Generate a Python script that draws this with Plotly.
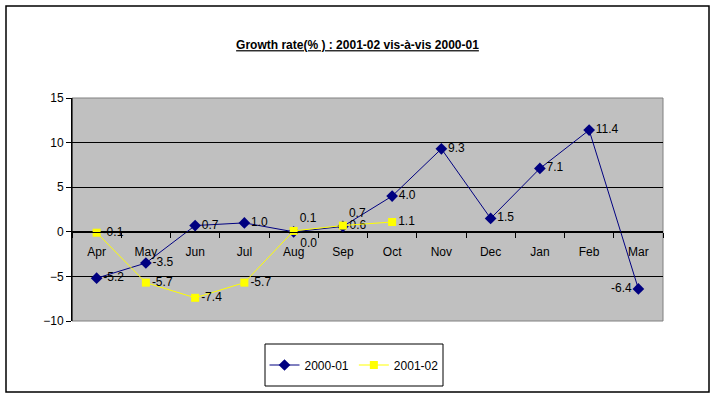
import plotly.graph_objects as go

months = ["Apr", "May", "Jun", "Jul", "Aug", "Sep", "Oct", "Nov", "Dec", "Jan", "Feb", "Mar"]
growth_2000_01 = [-5.2, -3.5, 0.7, 1.0, 0.0, 0.6, 4.0, 9.3, 1.5, 7.1, 11.4, -6.4]
growth_2001_02 = [-0.1, -5.7, -7.4, -5.7, 0.1, 0.7, 1.1]
series_names = ["2000-01", "2001-02"]
y_ticks = [-10, -5, 0, 5, 10, 15]

FONT = "Liberation Sans, Arial, sans-serif"

# plot area in pixels
L, R, T, B = 72, 663, 98, 321
PW, PH = R - L, B - T

def px(x):
    return (x - L) / PW

def py(y):
    return (B - y) / PH

pos1 = ["middle right"] * 12
pos1[4] = "bottom right"
pos1[11] = "middle left"
pos2 = ["middle right"] * 7
pos2[4] = "top right"
pos2[5] = "top right"

fig = go.Figure()
fig.add_trace(go.Scatter(
    x=months, y=growth_2000_01, name=series_names[0], mode="lines+markers+text",
    line=dict(color="#000080", width=1),
    marker=dict(symbol="diamond", size=9, color="#000080"),
    text=[f"{v:.1f}" for v in growth_2000_01], textposition=pos1,
    textfont=dict(family=FONT, size=12, color="black"), cliponaxis=False,
))
fig.add_trace(go.Scatter(
    x=months[:len(growth_2001_02)], y=growth_2001_02, name=series_names[1], mode="lines+markers+text",
    line=dict(color="#ffff00", width=1),
    marker=dict(symbol="square", size=8, color="#ffff00"),
    text=[f"{v:.1f}" for v in growth_2001_02], textposition=pos2,
    textfont=dict(family=FONT, size=12, color="black"), cliponaxis=False,
))

fig.update_layout(
    width=715, height=399,
    margin=dict(l=L, r=715 - R, t=T, b=399 - B),
    paper_bgcolor="white", plot_bgcolor="#c0c0c0",
    font=dict(family=FONT, size=12, color="black"),
    title=dict(text="<b><u>Growth rate(% ) : 2001-02 vis-à-vis 2000-01</u></b>",
               x=0.5, xanchor="center", y=1 - 45 / 399, yanchor="middle",
               font=dict(family=FONT, size=12, color="black")),
    showlegend=True,
    legend=dict(orientation="h", x=px(354), xanchor="center", y=py(365), yanchor="middle",
                borderwidth=0, bgcolor="rgba(0,0,0,0)",
                font=dict(family=FONT, size=12)),
    xaxis=dict(type="category", anchor="free", position=0.4, showgrid=False,
               showline=True, linecolor="black", linewidth=1,
               ticks="outside", tickson="boundaries", ticklen=5, tickcolor="black",
               ticklabelstandoff=9,
               range=[-0.5, 11.5], zeroline=False),
    yaxis=dict(range=[-10, 15], tickvals=y_ticks, showgrid=True, gridcolor="black", gridwidth=1,
               showline=True, linecolor="black", ticks="outside", ticklen=5, tickcolor="black",
               zeroline=False),
    shapes=[
        dict(type="rect", xref="paper", yref="paper", x0=0, x1=1, y0=0, y1=1,
             line=dict(color="#808080", width=1), layer="below"),
        dict(type="line", xref="paper", yref="paper", x0=0, x1=0, y0=0, y1=1,
             line=dict(color="black", width=1)),
        dict(type="rect", xref="paper", yref="paper",
             x0=px(265), x1=px(443), y0=py(386), y1=py(344),
             line=dict(color="black", width=1)),
        dict(type="rect", xref="paper", yref="paper",
             x0=px(6), x1=px(709), y0=py(392), y1=py(6),
             line=dict(color="black", width=1.5)),
    ],
)

fig.write_html("out.html", config={"displayModeBar": False},
               post_script="document.body.style.margin='0';document.body.style.padding='0';")
